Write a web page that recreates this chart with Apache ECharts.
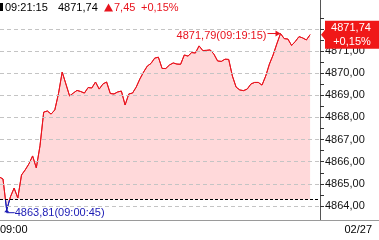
<!DOCTYPE html>
<html><head><meta charset="utf-8">
<script src="https://cdn.jsdelivr.net/npm/echarts@6/dist/echarts.min.js"></script>
<style>html,body{margin:0;padding:0;background:#fff;overflow:hidden}#c{width:379px;height:240px}</style>
</head><body><div id="c"></div>
<script>
// ---- data ----
const stepSec = 15;              // one point every 15 s from 09:00:00
const prices = [
  4865.40, 4865.31, 4865.22, 4863.81, 4864.41, 4864.81, 4864.36, 4865.40, 4865.63, 4865.90,
  4866.26, 4865.72, 4866.72, 4868.24, 4868.29, 4868.15, 4868.34, 4869.08, 4870.05, 4869.51,
  4868.97, 4869.10, 4869.22, 4869.17, 4869.10, 4869.35, 4869.33, 4869.60, 4869.28, 4869.51,
  4869.60, 4869.08, 4869.06, 4869.15, 4869.19, 4868.56, 4869.06, 4869.10, 4869.37, 4869.74,
  4870.05, 4870.32, 4870.44, 4870.68, 4870.72, 4870.21, 4870.21, 4870.37, 4870.46, 4870.41,
  4870.40, 4870.82, 4870.77, 4870.93, 4870.91, 4871.23, 4871.02, 4871.03, 4871.05, 4870.86,
  4870.55, 4870.53, 4870.63, 4870.62, 4869.87, 4869.37, 4869.24, 4869.21, 4869.28, 4869.51,
  4869.58, 4869.58, 4869.46, 4869.87, 4870.41, 4870.82, 4871.32, 4871.79, 4871.56, 4871.54,
  4871.25, 4871.43, 4871.65, 4871.59, 4871.50, 4871.74
];
const prevClose = 4864.29;
const gridLevels = [4864, 4865, 4866, 4867, 4868, 4869, 4870, 4871, 4872];
const labelLevels = [4864, 4865, 4866, 4867, 4868, 4869, 4870, 4871];
const tickLevels = [4864, 4864.5, 4865, 4865.5, 4866, 4866.5, 4867, 4867.5, 4868, 4868.5,
                    4869, 4869.5, 4870, 4870.5, 4871, 4871.5, 4872, 4872.5];
const startLabel = '09:00';
const dateLabel = '02/27';

// ---- helpers ----
const FONT = "'Liberation Sans', Arial, sans-serif";
const RED = '#e8141e', BLUE = '#1a1ab4';
const fmtNum = v => v.toFixed(2).replace('.', ',');
const fmtTime = s => {
  const h = 9 + Math.floor(s / 3600), m = Math.floor((s % 3600) / 60), sec = s % 60;
  return [h, m, sec].map(x => String(x).padStart(2, '0')).join(':');
};
const seriesData = prices.map((v, i) => [i * stepSec, v]);
let iMax = 0, iMin = 0;
prices.forEach((v, i) => { if (v > prices[iMax]) iMax = i; if (v < prices[iMin]) iMin = i; });
const last = prices[prices.length - 1];
const lastSec = (prices.length - 1) * stepSec;
const chg = last - prevClose;
const pct = chg / prevClose * 100;

const chart = echarts.init(document.getElementById('c'), null, { renderer: 'canvas' });
chart.setOption({
  animation: false,
  grid: { left: 0, right: 59, top: 0, bottom: 20 },
  xAxis: {
    type: 'value', min: 17.84, max: 1315.1,
    axisLine: { show: true, lineStyle: { color: '#9a9a9a', width: 1 } },
    axisTick: { show: false }, axisLabel: { show: false }, splitLine: { show: false }
  },
  yAxis: {
    type: 'value', position: 'right', min: 4863.367, max: 4873.304, scale: true,
    axisLine: { show: true, lineStyle: { color: '#555', width: 1 } },
    axisTick: { show: true, length: 4, customValues: tickLevels, lineStyle: { color: '#333' } },
    axisLabel: { customValues: labelLevels, formatter: v => fmtNum(v), margin: 5,
                 color: '#111', fontSize: 11, fontFamily: FONT },
    splitLine: { show: false }
  },
  series: [{
    type: 'line', data: seriesData, symbol: 'none', smooth: false,
    lineStyle: { width: 1, color: RED },
    areaStyle: { color: '#ffd9da', opacity: 1, origin: prevClose },
    markLine: {
      silent: true, symbol: ['none', 'none'], label: { show: false },
      data: gridLevels.map(v => ({ yAxis: v, lineStyle: { color: '#c4c4c4', type: [4, 3], width: 1 } }))
        .concat([{ yAxis: prevClose, lineStyle: { color: '#000', type: [3, 2], width: 1 } }])
    }
  }]
});

// positions through the chart's own scales
const [mxX, mxY] = chart.convertToPixel({ seriesIndex: 0 }, [iMax * stepSec, prices[iMax]]);
const [mnX, mnY] = chart.convertToPixel({ seriesIndex: 0 }, [iMin * stepSec, prices[iMin]]);
const lastY = chart.convertToPixel({ yAxisIndex: 0 }, last);
const pcY = chart.convertToPixel({ yAxisIndex: 0 }, prevClose);
const axisX = 320;
const gradTop = 0, gradBot = 240;
const f = (pcY - gradTop) / (gradBot - gradTop);
const lineGrad = new echarts.graphic.LinearGradient(0, gradTop, 0, gradBot, [
  { offset: 0, color: RED }, { offset: f, color: RED },
  { offset: f, color: BLUE }, { offset: 1, color: BLUE }
], true);

chart.setOption({
  series: [{ lineStyle: { color: lineGrad } }],
  graphic: [
    // header
    { type: 'rect', z: 100, shape: { x: 0, y: 3, width: 3, height: 8 }, style: { fill: '#000' } },
    { type: 'text', z: 100, x: 5, y: 7.5, style: { text: fmtTime(lastSec), fill: '#000', font: '11px ' + FONT, verticalAlign: 'middle' } },
    { type: 'text', z: 100, x: 58, y: 7.5, style: { text: fmtNum(last), fill: '#000', font: '11px ' + FONT, verticalAlign: 'middle' } },
    { type: 'polygon', z: 100, shape: { points: [[104, 11.5], [108.5, 3.5], [113, 11.5]] }, style: { fill: RED } },
    { type: 'text', z: 100, x: 114, y: 7.5, style: { text: fmtNum(chg), fill: RED, font: '11px ' + FONT, verticalAlign: 'middle' } },
    { type: 'text', z: 100, x: 141, y: 7.5, style: { text: (chg >= 0 ? '+' : '') + fmtNum(pct) + '%', fill: RED, font: '11px ' + FONT, verticalAlign: 'middle' } },
    // bottom line extension and labels
    { type: 'line', z: 100, shape: { x1: axisX, y1: 220.5, x2: 379, y2: 220.5 }, style: { stroke: '#9a9a9a', lineWidth: 1 } },
    { type: 'text', z: 100, x: 0, y: 230, style: { text: startLabel, fill: '#000', font: '11px ' + FONT, verticalAlign: 'middle' } },
    { type: 'text', z: 100, x: 372, y: 230, style: { text: dateLabel, fill: '#000', font: '11px ' + FONT, verticalAlign: 'middle', align: 'right' } },
    // max annotation
    { type: 'line', z: 100, shape: { x1: mxX - 13, y1: mxY, x2: mxX - 4, y2: mxY }, style: { stroke: RED, lineWidth: 1 } },
    { type: 'polygon', z: 100, shape: { points: [[mxX - 5, mxY - 3], [mxX, mxY], [mxX - 5, mxY + 3]] }, style: { fill: RED } },
    { type: 'text', z: 100, x: mxX - 14, y: mxY + 2, style: { text: fmtNum(prices[iMax]) + '(' + fmtTime(iMax * stepSec) + ')', fill: RED, font: '11px ' + FONT, verticalAlign: 'middle', align: 'right' } },
    // min annotation
    { type: 'polyline', z: 100, shape: { points: [[mnX + 8, mnY + 2.5], [mnX, mnY + 2.5], [mnX, mnY]] }, style: { stroke: BLUE, lineWidth: 1, fill: null } },
    { type: 'polygon', z: 100, shape: { points: [[mnX - 2.5, mnY + 2], [mnX, mnY - 1], [mnX + 2.5, mnY + 2]] }, style: { fill: BLUE } },
    { type: 'text', z: 100, x: mnX + 8, y: mnY + 2.5, style: { text: fmtNum(prices[iMin]) + '(' + fmtTime(iMin * stepSec) + ')', fill: BLUE, font: '11px ' + FONT, verticalAlign: 'middle' } },
    // last value box
    { type: 'polygon', z: 100, shape: { points: [[axisX + 1, lastY], [axisX + 5, lastY - 5], [axisX + 5, lastY - 14], [379, lastY - 14], [379, lastY + 14], [axisX + 5, lastY + 14], [axisX + 5, lastY + 5]] }, style: { fill: '#f01818' } },
    { type: 'text', z: 101, x: 351, y: lastY - 6.5, style: { text: fmtNum(last), fill: '#fff', font: '11px ' + FONT, verticalAlign: 'middle', align: 'center' } },
    { type: 'text', z: 101, x: 352, y: lastY + 7, style: { text: (chg >= 0 ? '+' : '') + fmtNum(pct) + '%', fill: '#fff', font: '11px ' + FONT, verticalAlign: 'middle', align: 'center' } }
  ]
});
</script></body></html>
